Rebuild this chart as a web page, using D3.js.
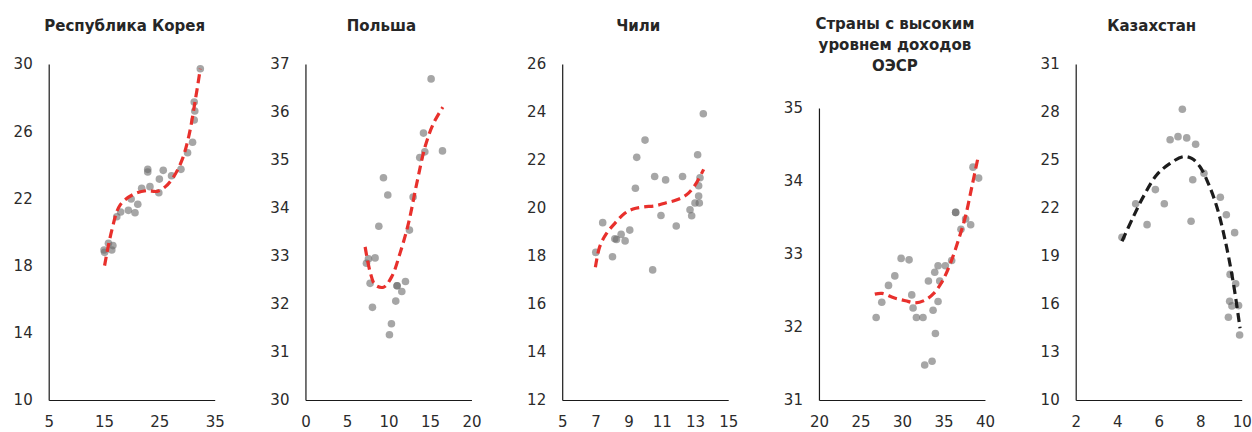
<!DOCTYPE html>
<html>
<head>
<meta charset="utf-8">
<script src="https://cdn.jsdelivr.net/npm/d3@7/dist/d3.min.js"></script>
<style>
  html, body { margin: 0; padding: 0; background: #fff; }
  svg { display: block; }
  .tick text { font-family: "DejaVu Sans", sans-serif; font-size: 15px; fill: #2b2b2b; }
  .title { font-family: "DejaVu Sans", sans-serif; font-weight: bold; font-size: 15px; fill: #262626; }
</style>
</head>
<body>
<svg id="chart" width="1252" height="432"></svg>
<script>
// Panel titles
const titles = [
  ["Республика Корея"],
  ["Польша"],
  ["Чили"],
  ["Страны с высоким", "уровнем доходов", "ОЭСР"],
  ["Казахстан"]
];

// Axis domains and tick values per panel
const xDomains = [[5, 35], [0, 20], [5, 15], [20, 40], [2, 10]];
const yDomains = [[10, 30], [30, 37], [12, 26], [31, 35], [10, 31]];
const xTicks = [[5, 15, 25, 35], [0, 5, 10, 15, 20], [5, 7, 9, 11, 13, 15], [20, 25, 30, 35, 40], [2, 4, 6, 8, 10]];
const yTicks = [[10, 14, 18, 22, 26, 30], [30, 31, 32, 33, 34, 35, 36, 37], [12, 14, 16, 18, 20, 22, 24, 26], [31, 32, 33, 34, 35], [10, 13, 16, 19, 22, 25, 28, 31]];

// Observations: [x, y]
const koreaPoints = [
  [15.0, 18.93], [15.1, 18.79], [15.8, 19.33], [16.4, 18.93], [16.6, 19.19],
  [17.3, 20.91], [18.0, 21.19], [19.4, 21.29], [19.9, 21.96], [20.6, 21.15],
  [21.1, 21.65], [21.8, 22.6], [22.9, 23.73], [22.9, 23.57], [23.3, 22.70],
  [24.9, 22.34], [25.0, 23.15], [25.7, 23.67], [27.2, 23.35], [28.9, 23.73],
  [30.1, 24.72], [31.0, 25.34], [31.3, 26.67], [31.4, 27.2], [31.3, 27.74],
  [32.4, 29.72]
];
const polandPoints = [
  [7.35, 32.85], [7.59, 32.94], [7.79, 32.43], [8.39, 32.96], [8.07, 31.93],
  [8.84, 33.62], [9.40, 34.63], [9.92, 34.27], [10.12, 31.36], [10.36, 31.59],
  [10.88, 32.06], [11.04, 32.38], [11.04, 32.38], [11.61, 32.26], [12.05, 32.47],
  [12.53, 33.54], [12.97, 34.23], [13.77, 35.05], [14.22, 35.56], [14.38, 35.17],
  [15.14, 36.69], [16.51, 35.19]
];
const chilePoints = [
  [7.02, 18.15], [7.44, 19.39], [8.03, 17.97], [8.17, 18.72], [8.27, 18.69],
  [8.55, 18.90], [8.79, 18.63], [9.07, 19.08], [9.41, 20.82], [9.49, 22.11],
  [9.99, 22.83], [10.45, 17.42], [10.57, 21.31], [10.95, 19.69], [11.23, 21.17],
  [11.87, 19.25], [12.25, 21.31], [12.70, 19.93], [12.80, 19.68], [13.00, 20.21],
  [13.16, 22.22], [13.22, 20.93], [13.22, 20.5], [13.26, 20.21], [13.30, 21.26],
  [13.50, 23.93]
];
const oecdPoints = [
  [26.89, 32.13], [27.57, 32.34], [28.38, 32.57], [29.14, 32.70], [29.90, 32.94],
  [30.86, 32.92], [31.18, 32.44], [31.34, 32.26], [31.74, 32.13], [32.54, 32.13],
  [32.74, 31.48], [33.19, 32.63], [33.63, 31.53], [33.75, 32.23], [33.95, 32.75],
  [34.03, 31.91], [34.35, 32.35], [34.35, 32.84], [34.55, 32.63], [35.23, 32.84],
  [35.99, 32.91], [36.47, 33.57], [36.47, 33.57], [37.11, 33.34], [37.67, 33.48],
  [38.28, 33.40], [38.56, 34.19], [39.24, 34.04]
];
const kazakhstanPoints = [
  [4.23, 20.17], [4.89, 22.27], [5.44, 20.96], [5.84, 23.15], [6.27, 22.27],
  [6.55, 26.27], [6.93, 26.46], [7.14, 28.17], [7.35, 26.38], [7.64, 23.77],
  [7.56, 21.17], [7.78, 25.98], [8.18, 24.17], [8.97, 22.67], [9.26, 21.58],
  [9.66, 20.46], [9.44, 17.85], [9.71, 17.27], [9.42, 16.17], [9.53, 15.88],
  [9.85, 15.90], [9.36, 15.17], [9.90, 14.06]
];

// Fitted trend lines: [x, y]
const koreaTrend = [
  [15.1, 18.0], [16.4, 20.1], [17.9, 21.6], [20.3, 22.24], [22.7, 22.46],
  [24.6, 22.42], [26.1, 22.7], [27.6, 23.3], [29.1, 24.29], [30.3, 25.67],
  [31.5, 27.86], [32.4, 29.72]
];
const polandTrend = [
  [7.19, 33.19], [7.79, 32.67], [8.39, 32.40], [9.4, 32.35], [10.4, 32.57],
  [11.4, 33.06], [12.41, 33.68], [13.41, 34.51], [14.42, 35.28], [15.42, 35.76],
  [16.55, 36.10]
];
const chileTrend = [
  [7.0, 17.53], [7.26, 18.39], [7.67, 18.94], [8.17, 19.36], [8.77, 19.78],
  [9.27, 19.96], [9.87, 20.04], [10.67, 20.10], [11.27, 20.22], [11.87, 20.33],
  [12.47, 20.54], [12.98, 20.93], [13.52, 21.61]
];
const oecdTrend = [
  [26.73, 32.45], [27.61, 32.46], [29.02, 32.40], [30.42, 32.36], [31.62, 32.33],
  [32.82, 32.37], [33.83, 32.46], [34.83, 32.62], [35.83, 32.87], [36.83, 33.20],
  [37.64, 33.51], [38.44, 33.93], [39.2, 34.34]
];
const kazakhstanTrend = [
  [4.23, 19.92], [4.78, 21.46], [5.26, 22.71], [5.90, 24.06], [6.55, 24.79],
  [7.19, 25.21], [7.59, 25.10], [7.99, 24.58], [8.39, 23.54], [8.80, 22.08],
  [9.20, 20.0], [9.60, 17.29], [9.92, 14.48]
];

const pointSets = [koreaPoints, polandPoints, chilePoints, oecdPoints, kazakhstanPoints];
const trendSets = [koreaTrend, polandTrend, chileTrend, oecdTrend, kazakhstanTrend];
const trendColors = ["#e8302c", "#e8302c", "#e8302c", "#e8302c", "#1c1c1c"];

const svg = d3.select("#chart");

// Layout of the small multiples
const firstLeft = 48.7, step = 256.75, plotW = 166;
const plotBottom = 400;
const plotTops = [64, 64, 64, 108, 64];

titles.forEach((lines, i) => {
  const left = firstLeft + i * step;
  const g = svg.append("g");

  const x = d3.scaleLinear().domain(xDomains[i]).range([left, left + plotW]);
  const y = d3.scaleLinear().domain(yDomains[i]).range([plotBottom, plotTops[i]]);

  // Title (single line sits a little lower than the first of several)
  const cx = left + plotW / 2 - 7;
  const firstBaseline = lines.length > 1 ? 28.5 : 30.5;
  const t = g.append("text").attr("class", "title").attr("text-anchor", "middle");
  lines.forEach((ln, k) => {
    t.append("tspan").attr("x", cx).attr("y", firstBaseline + k * 21).text(ln);
  });

  // Axes
  const xAxis = d3.axisBottom(x).tickValues(xTicks[i]).tickSize(0).tickPadding(16).tickFormat(d3.format("d"));
  const yAxis = d3.axisLeft(y).tickValues(yTicks[i]).tickSize(0).tickPadding(16).tickFormat(d3.format("d"));

  const gx = g.append("g").attr("transform", `translate(0,${plotBottom})`).call(xAxis);
  const gy = g.append("g").attr("transform", `translate(${left},0)`).call(yAxis);
  [gx, gy].forEach(a => {
    a.select(".domain").attr("stroke", "#1a1a1a").attr("stroke-width", 1.2);
  });

  // Observations
  g.append("g").selectAll("circle")
    .data(pointSets[i])
    .join("circle")
    .attr("cx", d => x(d[0]))
    .attr("cy", d => y(d[1]))
    .attr("r", 3.8)
    .attr("fill", "#6b6b6b")
    .attr("fill-opacity", 0.6);

  // Trend line
  const line = d3.line()
    .x(d => x(d[0]))
    .y(d => y(d[1]))
    .curve(d3.curveCatmullRom.alpha(0.5));
  g.append("path")
    .datum(trendSets[i])
    .attr("d", line)
    .attr("fill", "none")
    .attr("stroke", trendColors[i])
    .attr("stroke-width", 3.2)
    .attr("stroke-dasharray", "9,5");
});
</script>
</body>
</html>
